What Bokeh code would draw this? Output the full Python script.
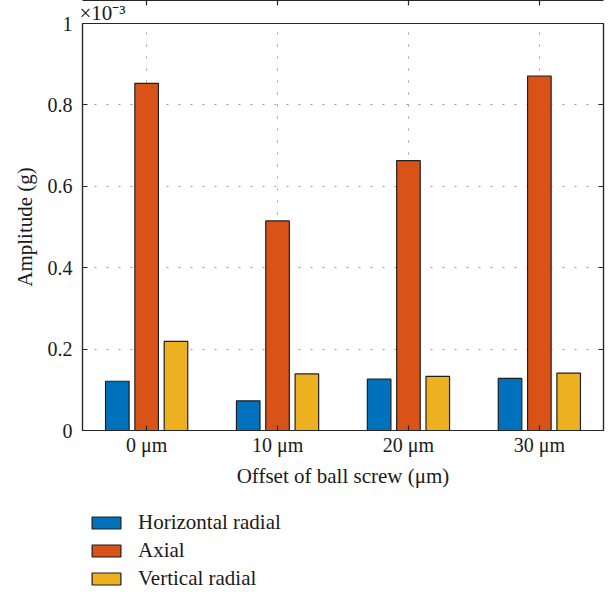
from bokeh.plotting import figure
from bokeh.layouts import column
from bokeh.models import (ColumnDataSource, FixedTicker, LinearAxis, Range1d,
                          Legend, LegendItem, Title)
from bokeh.transform import dodge
from bokeh.embed import file_html
from bokeh.resources import INLINE

# ---- data (amplitude in units of 1e-3 g) ----
categories = ["0 μm", "10 μm", "20 μm", "30 μm"]
horizontal_radial = [0.121, 0.073, 0.126, 0.128]
axial = [0.853, 0.515, 0.663, 0.871]
vertical_radial = [0.219, 0.139, 0.133, 0.141]
series_names = ["Horizontal radial", "Axial", "Vertical radial"]
y_ticks = [0, 0.2, 0.4, 0.6, 0.8, 1.0]
y_tick_labels = ["0", "0.2", "0.4", "0.6", "0.8", "1"]
scale_label = "×10⁻³"

colors = ["#0072BD", "#D95319", "#EDB120"]
FONT = "Liberation Serif"
AXC = "#262626"
TXT = "#1a1a1a"
W = 612

xpos = list(range(1, len(categories) + 1))
source = ColumnDataSource(dict(x=xpos, h=horizontal_radial, a=axial, v=vertical_radial))

p = figure(width=W, height=500, x_range=Range1d(0.51, 4.49), y_range=Range1d(0, 1),
           output_backend="svg", toolbar_location=None,
           min_border_left=82, min_border_right=9, min_border_top=23, min_border_bottom=70)
p.background_fill_color = "white"
p.border_fill_color = "white"
p.outline_line_color = AXC
p.outline_line_width = 1.2

# grids
p.xgrid.ticker = FixedTicker(ticks=xpos)
p.ygrid.ticker = FixedTicker(ticks=y_ticks)
for g in (p.xgrid, p.ygrid):
    g.grid_line_color = "#9a9a9a"
    g.grid_line_dash = "2 10"
    g.grid_line_width = 1

# bars
off = 0.224
bw = 0.18
cols = ["h", "a", "v"]
for col, dx, c in zip(cols, [-off, 0, off], colors):
    p.vbar(x=dodge("x", dx, range=p.x_range), top=col, width=bw, bottom=0, source=source,
           fill_color=c, line_color="#1f1f1f", line_width=1.2)

# axes
xa = p.xaxis[0]
xa.ticker = FixedTicker(ticks=xpos)
xa.major_label_overrides = {i: lab for i, lab in zip(xpos, categories)}
xa.axis_label = "Offset of ball screw (μm)"
ya = p.yaxis[0]
ya.ticker = FixedTicker(ticks=y_ticks)
ya.major_label_overrides = {t: lab for t, lab in zip(y_ticks, y_tick_labels)}
ya.axis_label = "Amplitude (g)"
for ax in (xa, ya):
    ax.axis_line_color = AXC
    ax.axis_line_width = 1.2
    ax.major_tick_line_color = AXC
    ax.major_tick_line_width = 1.2
    ax.major_tick_in = 5
    ax.major_tick_out = 0
    ax.minor_tick_line_color = None
    ax.major_label_text_font = FONT
    ax.major_label_text_font_size = "20px"
    ax.major_label_text_color = TXT
    ax.axis_label_text_font = FONT
    ax.axis_label_text_font_size = "21px"
    ax.axis_label_text_font_style = "normal"
    ax.axis_label_text_color = TXT
xa.major_label_standoff = 3
xa.axis_label_standoff = 5
ya.major_label_standoff = 10
ya.axis_label_standoff = 8

# mirrored tick marks (right / top), no labels
ra = LinearAxis(ticker=FixedTicker(ticks=y_ticks),
                major_label_overrides={t: "" for t in y_ticks})
ta = LinearAxis(ticker=FixedTicker(ticks=xpos),
                major_label_overrides={t: "" for t in xpos})
for ax in (ra, ta):
    ax.major_label_standoff = 0
    ax.major_tick_in = 5
    ax.major_tick_out = 0
    ax.minor_tick_line_color = None
    ax.axis_line_color = AXC
    ax.axis_line_width = 1.2
    ax.major_tick_line_color = AXC
    ax.major_tick_line_width = 1.2
p.add_layout(ra, "right")

# x10^-3 scale label above the frame
title = Title(text=scale_label, align="left", offset=-3, standoff=-3,
              text_font=FONT, text_font_size="21px", text_font_style="normal",
              text_color=TXT)
p.add_layout(title, "above")
p.add_layout(ta, "above")

# legend panel under the chart (its bars use the same data but lie outside its view)
q = figure(width=W, height=90, x_range=Range1d(0, 1), y_range=Range1d(5, 6),
           output_backend="svg", toolbar_location=None,
           min_border_left=0, min_border_right=0, min_border_top=0, min_border_bottom=0)
q.axis.visible = False
q.grid.visible = False
q.outline_line_color = None
q.background_fill_color = "white"
q.border_fill_color = "white"
keys = [q.vbar(x="x", top=col, width=0.1, bottom=0, source=source,
               fill_color=c, line_color="#1f1f1f", line_width=1.2)
        for col, c in zip(cols, colors)]
items = [LegendItem(label=n, renderers=[r]) for n, r in zip(series_names, keys)]
legend = Legend(items=items, location=(6, -1), orientation="vertical",
                glyph_width=36, glyph_height=15, label_standoff=14, spacing=3,
                padding=0, margin=0, border_line_alpha=0, background_fill_alpha=0,
                label_text_font=FONT, label_text_font_size="21px", label_height=15,
                label_text_color=TXT)
q.add_layout(legend, "center")

layout = column(p, q, spacing=0)
open("out.html", "w").write(file_html(layout, INLINE))
